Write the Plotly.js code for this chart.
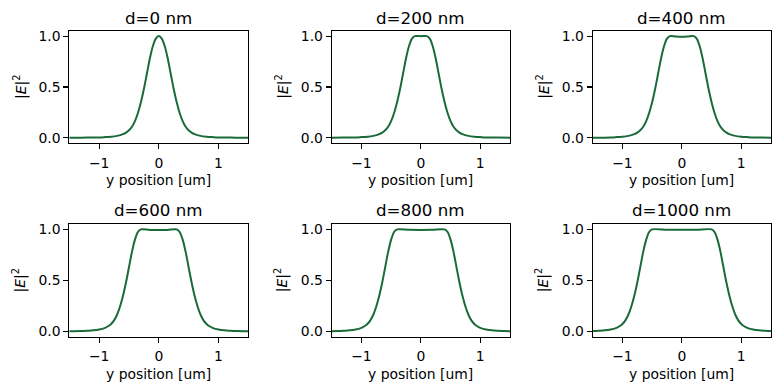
<!DOCTYPE html>
<html>
<head>
<meta charset="utf-8">
<script src="https://cdn.plot.ly/plotly-3.0.1.min.js"></script>
<style>html,body{margin:0;padding:0;background:#fff;}#chart{width:781px;height:389px;}</style>
</head>
<body>
<div id="chart"></div>
<script>
// ---- data ----
const titles = ["d=0 nm", "d=200 nm", "d=400 nm", "d=600 nm", "d=800 nm", "d=1000 nm"];
const xTickVals = [-1, 0, 1];
const yTickVals = [0, 0.5, 1];

const x_d0 = [-1.5,-1.3,-1.1,-1.0,-0.9,-0.8,-0.7,-0.6,-0.55,-0.5,-0.45,-0.4,-0.35,-0.3,-0.25,-0.2,-0.15,-0.1,-0.05,0,0.05,0.1,0.15,0.2,0.25,0.3,0.35,0.4,0.45,0.5,0.55,0.6,0.7,0.8,0.9,1.0,1.1,1.3,1.5];
const y_d0 = [0.001,0.002,0.004,0.005,0.008,0.012,0.02,0.037,0.052,0.075,0.11,0.165,0.245,0.35,0.48,0.63,0.78,0.9,0.975,1.0,0.975,0.9,0.78,0.63,0.48,0.35,0.245,0.165,0.11,0.075,0.052,0.037,0.02,0.012,0.008,0.005,0.004,0.002,0.001];

const x_d200 = [-1.5,-1.3,-1.1,-1.0,-0.9,-0.8,-0.7,-0.65,-0.6,-0.55,-0.5,-0.45,-0.4,-0.35,-0.3,-0.25,-0.2,-0.15,-0.1,0,0.1,0.15,0.2,0.25,0.3,0.35,0.4,0.45,0.5,0.55,0.6,0.65,0.7,0.8,0.9,1.0,1.1,1.3,1.5];
const y_d200 = [0.001,0.003,0.005,0.008,0.012,0.02,0.037,0.052,0.075,0.11,0.165,0.245,0.35,0.48,0.63,0.78,0.9,0.975,1.0,0.999,1.0,0.975,0.9,0.78,0.63,0.48,0.35,0.245,0.165,0.11,0.075,0.052,0.037,0.02,0.012,0.008,0.005,0.003,0.001];

const x_d400 = [-1.5,-1.2,-1.1,-1.0,-0.9,-0.8,-0.75,-0.7,-0.65,-0.6,-0.55,-0.5,-0.45,-0.4,-0.35,-0.3,-0.25,-0.2,-0.1,0,0.1,0.2,0.25,0.3,0.35,0.4,0.45,0.5,0.55,0.6,0.65,0.7,0.75,0.8,0.9,1.0,1.1,1.2,1.5];
const y_d400 = [0.002,0.005,0.008,0.012,0.02,0.037,0.052,0.075,0.11,0.165,0.245,0.35,0.48,0.63,0.78,0.9,0.975,1.0,0.996,0.994,0.996,1.0,0.975,0.9,0.78,0.63,0.48,0.35,0.245,0.165,0.11,0.075,0.052,0.037,0.02,0.012,0.008,0.005,0.002];

const x_d600 = [-1.5,-1.3,-1.2,-1.1,-1.0,-0.9,-0.85,-0.8,-0.75,-0.7,-0.65,-0.6,-0.55,-0.5,-0.45,-0.4,-0.35,-0.3,-0.15,0,0.15,0.3,0.35,0.4,0.45,0.5,0.55,0.6,0.65,0.7,0.75,0.8,0.85,0.9,1.0,1.1,1.2,1.3,1.5];
const y_d600 = [0.003,0.005,0.008,0.012,0.02,0.037,0.052,0.075,0.11,0.165,0.245,0.35,0.48,0.63,0.78,0.9,0.975,1.0,0.995,0.994,0.995,1.0,0.975,0.9,0.78,0.63,0.48,0.35,0.245,0.165,0.11,0.075,0.052,0.037,0.02,0.012,0.008,0.005,0.003];

const x_d800 = [-1.5,-1.4,-1.3,-1.2,-1.1,-1.0,-0.95,-0.9,-0.85,-0.8,-0.75,-0.7,-0.65,-0.6,-0.55,-0.5,-0.45,-0.4,-0.2,0,0.2,0.4,0.45,0.5,0.55,0.6,0.65,0.7,0.75,0.8,0.85,0.9,0.95,1.0,1.1,1.2,1.3,1.4,1.5];
const y_d800 = [0.004,0.005,0.008,0.012,0.02,0.037,0.052,0.075,0.11,0.165,0.245,0.35,0.48,0.63,0.78,0.9,0.975,1.0,0.996,0.995,0.996,1.0,0.975,0.9,0.78,0.63,0.48,0.35,0.245,0.165,0.11,0.075,0.052,0.037,0.02,0.012,0.008,0.005,0.004];

const x_d1000 = [-1.5,-1.4,-1.3,-1.2,-1.1,-1.05,-1.0,-0.95,-0.9,-0.85,-0.8,-0.75,-0.7,-0.65,-0.6,-0.55,-0.5,-0.25,0,0.25,0.5,0.55,0.6,0.65,0.7,0.75,0.8,0.85,0.9,0.95,1.0,1.05,1.1,1.2,1.3,1.4,1.5];
const y_d1000 = [0.005,0.008,0.012,0.02,0.037,0.052,0.075,0.11,0.165,0.245,0.35,0.48,0.63,0.78,0.9,0.975,1.0,0.997,0.996,0.997,1.0,0.975,0.9,0.78,0.63,0.48,0.35,0.245,0.165,0.11,0.075,0.052,0.037,0.02,0.012,0.008,0.005];

const seriesX = [x_d0, x_d200, x_d400, x_d600, x_d800, x_d1000];
const seriesY = [y_d0, y_d200, y_d400, y_d600, y_d800, y_d1000];

// ---- layout (pixel geometry of the reference) ----
const W = 781, H = 389;
const colsPx = [[69.3, 248.3], [331.7, 510.0], [592.7, 771.0]];
const rowsPx = [[31.0, 143.0], [224.3, 336.7]];
const titleYPx = [18.3, 210.0];
const xlabYPx = [180.0, 374.0];
const ylabXPx = [20.0, 281.7, 542.7];
const px2x = p => p / W;
const px2y = p => 1 - p / H;

const lineColor = '#1a6a3a';
const font = {family: 'DejaVu Sans, sans-serif', color: '#000'};

const data = [];
const layout = {
  width: W, height: H,
  margin: {l: 0, r: 0, t: 0, b: 0},
  paper_bgcolor: '#fff', plot_bgcolor: '#fff',
  showlegend: false,
  font: Object.assign({size: 13.9}, font),
  annotations: []
};

for (let i = 0; i < 6; i++) {
  const r = Math.floor(i / 3), c = i % 3;
  const sfx = i === 0 ? '' : String(i + 1);
  data.push({
    type: 'scatter', mode: 'lines',
    x: seriesX[i], y: seriesY[i],
    xaxis: 'x' + sfx, yaxis: 'y' + sfx,
    line: {color: lineColor, width: 2, shape: 'spline', smoothing: 0.8},
    hoverinfo: 'skip'
  });
  const axCommon = {
    showgrid: false, zeroline: false,
    showline: true, mirror: true, linecolor: '#000', linewidth: 1.1,
    ticks: 'outside', ticklen: 4.9, tickwidth: 1.1, tickcolor: '#000',
    tickfont: Object.assign({size: 13.9}, font),
    fixedrange: true
  };
  layout['xaxis' + sfx] = Object.assign({}, axCommon, {
    domain: [px2x(colsPx[c][0]), px2x(colsPx[c][1])],
    range: [-1.5, 1.5],
    tickmode: 'array', tickvals: xTickVals,
    ticklabelstandoff: 2,
    anchor: 'y' + sfx
  });
  layout['yaxis' + sfx] = Object.assign({}, axCommon, {
    domain: [px2y(rowsPx[r][1]), px2y(rowsPx[r][0])],
    range: [-0.05, 1.05],
    tickmode: 'array', tickvals: yTickVals, tickformat: '.1f',
    anchor: 'x' + sfx
  });
  const cx = (colsPx[c][0] + colsPx[c][1]) / 2;
  const cy = (rowsPx[r][0] + rowsPx[r][1]) / 2;
  layout.annotations.push({
    xref: 'paper', yref: 'paper', x: px2x(cx), y: px2y(titleYPx[r]),
    xanchor: 'center', yanchor: 'middle', showarrow: false,
    text: titles[i], font: Object.assign({size: 16.7}, font)
  });
  layout.annotations.push({
    xref: 'paper', yref: 'paper', x: px2x(cx), y: px2y(xlabYPx[r]),
    xanchor: 'center', yanchor: 'middle', showarrow: false,
    text: 'y position [um]', font: Object.assign({size: 13.9}, font)
  });
  layout.annotations.push({
    xref: 'paper', yref: 'paper', x: px2x(ylabXPx[c]), y: px2y(cy),
    xanchor: 'center', yanchor: 'middle', showarrow: false, textangle: -90,
    text: '|<i>E</i>|<sup>2</sup>', font: Object.assign({size: 13.9}, font)
  });
}

Plotly.newPlot('chart', data, layout, {staticPlot: true, displayModeBar: false});
</script>
</body>
</html>
